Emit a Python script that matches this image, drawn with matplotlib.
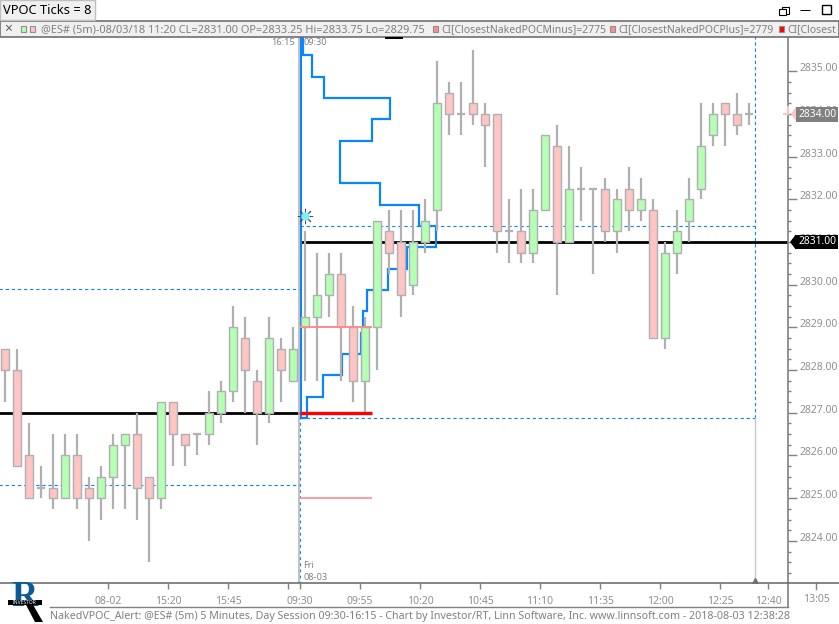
import matplotlib
matplotlib.use('Agg')
import matplotlib.pyplot as plt
from matplotlib.patches import Rectangle, Polygon
from matplotlib.transforms import ScaledTranslation

W, H = 839, 624
GREEN = '#b4ffb4'
RED = '#ffc4c4'
EDGE = '#b0b0b0'
BLUE = '#0a84ff'
GRID = '#808080'

# bars: open, high, low, close
opens = [2828.5, 2828.0, 2826.0, 2825.25, 2825.25, 2825.0, 2826.0, 2825.25, 2825.0, 2825.5,
         2826.25, 2826.5, 2825.5, 2825.0, 2827.25, 2826.5, 2826.5, 2826.5, 2827.0, 2827.5,
         2828.75, 2827.75, 2827.0, 2828.5, 2827.75, 2829.0, 2829.25, 2829.75, 2830.25, 2829.0,
         2827.75, 2829.0, 2831.25, 2831.0, 2830.0, 2831.0, 2831.75, 2834.5, 2834.0, 2834.25,
         2834.0, 2834.0, 2831.25, 2831.25, 2830.75, 2831.75, 2833.25, 2831.0, 2832.25, 2832.25,
         2832.25, 2831.25, 2832.25, 2831.75, 2831.75, 2828.75, 2830.75, 2831.5, 2832.25, 2833.5,
         2834.25, 2834.0, 2834.0]
highs = [2828.5, 2828.5, 2826.75, 2825.75, 2826.5, 2826.5, 2826.5, 2825.5, 2825.75, 2826.5,
         2826.5, 2827.0, 2825.5, 2827.25, 2827.25, 2826.5, 2826.5, 2827.5, 2827.75, 2829.5,
         2829.25, 2828.0, 2829.25, 2828.75, 2829.0, 2831.25, 2830.75, 2830.75, 2830.75, 2829.5,
         2829.25, 2831.5, 2831.75, 2831.75, 2831.75, 2832.0, 2835.25, 2834.75, 2834.75, 2835.5,
         2834.25, 2834.0, 2832.0, 2832.25, 2832.25, 2833.5, 2833.75, 2833.25, 2832.75, 2832.25,
         2832.5, 2832.25, 2832.75, 2832.5, 2832.0, 2831.0, 2831.75, 2832.5, 2834.25, 2834.25,
         2834.25, 2834.5, 2834.25]
lows = [2827.25, 2825.75, 2825.0, 2825.0, 2824.75, 2825.0, 2824.75, 2824.0, 2824.5, 2824.75,
        2824.75, 2824.5, 2823.5, 2824.75, 2825.75, 2825.75, 2826.0, 2826.25, 2826.75, 2827.25,
        2827.0, 2826.25, 2826.75, 2827.25, 2827.75, 2827.75, 2827.75, 2829.25, 2827.75, 2827.25,
        2827.0, 2828.0, 2830.25, 2829.25, 2829.75, 2830.75, 2831.25, 2833.5, 2833.5, 2833.75,
        2832.75, 2830.75, 2830.5, 2830.5, 2830.5, 2831.75, 2829.75, 2831.0, 2831.5, 2830.25,
        2831.0, 2830.75, 2831.25, 2831.5, 2828.75, 2828.5, 2830.25, 2831.0, 2832.0, 2833.25,
        2833.25, 2833.5, 2833.75]
closes = [2828.0, 2825.75, 2825.0, 2825.25, 2825.0, 2826.0, 2825.0, 2825.0, 2825.5, 2826.25,
          2826.5, 2825.25, 2825.0, 2827.25, 2826.5, 2826.25, 2826.5, 2827.0, 2827.5, 2829.0,
          2828.0, 2827.0, 2828.75, 2828.0, 2828.5, 2829.25, 2829.75, 2830.25, 2829.0, 2827.75,
          2829.0, 2831.5, 2830.75, 2829.75, 2831.0, 2831.5, 2834.25, 2834.0, 2834.0, 2834.0,
          2833.75, 2831.25, 2831.25, 2830.75, 2831.75, 2833.5, 2831.0, 2832.25, 2832.25, 2832.25,
          2831.25, 2832.0, 2831.75, 2832.0, 2828.75, 2830.75, 2831.25, 2832.0, 2833.25, 2834.0,
          2834.0, 2833.75, 2834.0]

# volume profile of the session, in bar widths from the session start
profile_edges = [2826.875, 2827.375, 2827.875, 2828.375, 2828.875, 2829.375, 2829.875, 2830.375,
                 2830.875, 2831.375, 2831.875, 2832.375, 2832.875, 2833.375, 2833.875, 2834.375,
                 2834.875, 2835.375, 2835.875]
profile_width = [0.6, 1.9, 3.5, 5.1, 5.25, 5.6, 7.3, 8.9, 11.3, 9.9, 6.7, 3.3, 3.3, 6.0, 7.5, 2.0, 1.0, 0.25]

minor_prices = [2823 + 0.25 * k for k in range(12 * 4)]
major_prices = [2824, 2825, 2826, 2827, 2828, 2829, 2830, 2831, 2832, 2833, 2834, 2835]
time_labels = ['08-02', '15:20', '15:45', '', '09:30', '09:55', '10:20', '10:45', '11:10', '11:35', '12:00', '12:25', '12:40']
time_ticks = [8.58, 13.58, 18.58, 23.58, 24.58, 29.58, 34.58, 39.58, 44.58, 49.58, 54.58, 59.58, 63.58]
future_tick = 67.58
future_label = '13:05'

session_x = 24.58
cursor_x = 62.5

fig = plt.figure(figsize=(W / 100, H / 100), dpi=100)
plt.rcParams['font.family'] = ['Noto Sans', 'DejaVu Sans']
GRAY_TXT = '#808080'


def to_fig(x, y):
    return x / W, 1 - y / H


# main price panel spans pixels x 0..788, y 37..583
ax = fig.add_axes([0, 1 - 583 / H, 788 / W, (583 - 37) / H])
for s in ['top', 'left']:
    ax.spines[s].set_visible(False)
ax.spines['bottom'].set_color('#707070')
ax.spines['bottom'].set_linewidth(1.2)
ax.spines['right'].set_color('#808080')
ax.spines['right'].set_linewidth(1.2)

ax.yaxis.tick_right()
ax.set_yticks(minor_prices, minor=True)
ax.set_yticks(major_prices)
ax.set_yticklabels([f'{p:.2f}' for p in major_prices], fontsize=7.5, color='#909090')
ax.tick_params(axis='y', which='major', length=6.5, width=1, color=GRID, pad=1.5)
ax.tick_params(axis='y', which='minor', length=2.4, width=1, color=GRID)
for lab in ax.get_yticklabels():
    # labels sit just above their tick
    lab.set_transform(lab.get_transform() + ScaledTranslation(0, 4 / 100, fig.dpi_scale_trans))
ax.set_xticks(time_ticks)
ax.set_xticklabels(time_labels, fontsize=7.5, color='#909090')
ax.tick_params(axis='x', length=4.3, width=1, color=GRID, pad=5)
ax.plot([future_tick, future_tick], [0, -6 / 546], color=GRID, lw=1, clip_on=False, transform=ax.get_xaxis_transform())
ax.text(future_tick, -17 / 546, future_label, fontsize=7.5, color='#909090', ha='center', va='center',
        transform=ax.get_xaxis_transform())

# levels behind the bars
dash = (0, (3, 2.5))
ax.plot([-1, session_x], [2827, 2827], color='black', lw=2, zorder=2, solid_capstyle='butt')
ax.plot([session_x, 66], [2831, 2831], color='black', lw=2, zorder=2, solid_capstyle='butt')
ax.plot([-1, session_x], [2829.9, 2829.9], color=BLUE, lw=0.8, ls=dash, zorder=2)
ax.plot([-1, session_x], [2825.3, 2825.3], color=BLUE, lw=0.8, ls=dash, zorder=2)
ax.plot([session_x, cursor_x], [2831.375, 2831.375], color=BLUE, lw=0.8, ls=dash, zorder=2)
ax.plot([session_x, cursor_x], [2826.875, 2826.875], color=BLUE, lw=0.8, ls=dash, zorder=2)
ax.plot([cursor_x, cursor_x], [2826.875, 2836], color=BLUE, lw=0.8, ls=dash, zorder=2)
ax.plot([cursor_x, cursor_x], [2823, 2826.875], color='#c8c8c8', lw=1, zorder=2)
ax.plot([cursor_x], [2823.07], marker='^', color='#707070', ms=5, zorder=3)
ax.plot([session_x - 0.07, session_x - 0.07], [2823, 2836], color='#b8b8b8', lw=1.2, zorder=2)
ax.plot([session_x, session_x], [2823, 2826.875], color=BLUE, lw=0.8, ls=(0, (2.5, 3)), zorder=2.2)

# profile step line
xs = [session_x + 0.05]
ys = [profile_edges[0]]
for k, w in enumerate(profile_width):
    xs += [session_x + w, session_x + w]
    ys += [profile_edges[k], profile_edges[k + 1]]
ax.plot(xs, ys, color=BLUE, lw=1.6, zorder=2.5, solid_joinstyle='miter')
ax.plot([session_x + 0.05, session_x + 0.05], [2826.875, 2836], color=BLUE, lw=1.5, zorder=2.5)

# candles
for i in range(len(opens)):
    o, h, l, c = opens[i], highs[i], lows[i], closes[i]
    ax.plot([i, i], [l, h], color=EDGE, lw=1.6, zorder=3, solid_capstyle='butt')
    if o == c:
        ax.plot([i - 0.36, i + 0.36], [o, o], color=EDGE, lw=1.6, zorder=3, solid_capstyle='butt')
    else:
        ax.add_patch(Rectangle((i - 0.32, min(o, c)), 0.64, abs(c - o), facecolor=GREEN if c > o else RED,
                               edgecolor=EDGE, lw=1.0, zorder=4))

# POC lines on top
ax.plot([session_x, 30.6], [2829, 2829], color='#ff8c8c', lw=1.4, zorder=5, solid_capstyle='butt')
ax.plot([session_x, 30.6], [2825, 2825], color='#ff8c8c', lw=1.2, zorder=5, solid_capstyle='butt')
ax.plot([session_x, 30.6], [2827, 2827], color='#ff0000', lw=2.4, zorder=5, solid_capstyle='butt')
ax.plot([25], [2831.6], marker='o', color='#7df0ff', mec='#7df0ff', ms=5, zorder=6)
ax.plot([25], [2831.6], marker=(8, 2, 0), color='#505050', mew=0.7, ms=11, zorder=5.5)

ax.text(session_x - 0.4, 2835.68, '16:15', fontsize=6.6, color=GRAY_TXT, ha='right', va='center')
ax.text(session_x + 0.28, 2835.68, '09:30', fontsize=6.6, color=GRAY_TXT, ha='left', va='center')
ax.text(session_x + 0.28, 2823.42, 'Fri', fontsize=6.6, color=GRAY_TXT, ha='left', va='center')
ax.text(session_x + 0.28, 2823.14, '08-03', fontsize=6.6, color=GRAY_TXT, ha='left', va='center')

# price tags on the right axis
ax.plot([64.92, 65.25], [2834, 2834], color='#ffc4c4', lw=1.4, zorder=5, clip_on=False)
ax.plot([65.25, 65.25], [2834, 2834.16], color='#ffc4c4', lw=1.4, zorder=5, clip_on=False)
ax.add_patch(Polygon([(65.5, 2834), (65.95, 2834.18), (65.95, 2833.82)], facecolor='#ffc4c4', edgecolor='none', clip_on=False, zorder=8))
ax.add_patch(Polygon([(65.42, 2831), (65.85, 2831.16), (65.85, 2830.84)], facecolor='black', edgecolor='none', clip_on=False, zorder=8))

ax.set_xlim(-5 / 12, (788 - 5) / 12)
ax.set_ylim(2831 - (583 - 242) / 42.7, 2831 + (242 - 37) / 42.7)


def panel_rect(x0, y0, x1, y1, **kw):
    fig.add_artist(Rectangle(to_fig(x0, y1), (x1 - x0) / W, (y1 - y0) / H, transform=fig.transFigure, **kw))


tag = dict(fontsize=7.4, color='white', ha='left', va='center', zorder=9)
panel_rect(796, 107, 838, 122, facecolor='#808080', edgecolor='none', zorder=8)
panel_rect(795, 235, 838, 249, facecolor='black', edgecolor='none', zorder=8)
fig.text(*to_fig(798.5, 114.5), '2834.00', **tag)
fig.text(*to_fig(798.5, 242), '2831.00', **tag)

# window chrome
panel_rect(0, 21, 839, 37, facecolor='#f0f0f0', edgecolor='#707070', lw=1.2, zorder=7)
panel_rect(0, 0, 95, 20, facecolor='#f0f0f0', edgecolor='#c0c0c0', lw=1, zorder=7)
fig.text(*to_fig(3, 10), 'VPOC Ticks = 8', fontsize=9.3, color='black', va='center', zorder=8)
fig.text(*to_fig(8, 29), '×', fontsize=10, color='#606060', ha='center', va='center', zorder=8)
panel_rect(21, 26, 26, 32, facecolor=GREEN, edgecolor='#909090', lw=0.8, zorder=8)
panel_rect(30, 26, 35, 32, facecolor=RED, edgecolor='#909090', lw=0.8, zorder=8)
fig.text(*to_fig(41, 29.5), '@ES# (5m)-08/03/18 11:20 CL=2831.00 OP=2833.25 Hi=2833.75 Lo=2829.75',
         fontsize=7.9, color=GRAY_TXT, va='center', zorder=8)
panel_rect(433, 26, 438, 32, facecolor='#ff8c8c', edgecolor='#909090', lw=0.8, zorder=8)
fig.text(*to_fig(441, 29.5), 'CI[ClosestNakedPOCMinus]=2775', fontsize=7.5, color=GRAY_TXT, va='center', zorder=8)
panel_rect(610, 26, 615, 32, facecolor='#ff8c8c', edgecolor='#909090', lw=0.8, zorder=8)
fig.text(*to_fig(618, 29.5), 'CI[ClosestNakedPOCPlus]=2779', fontsize=7.5, color=GRAY_TXT, va='center', zorder=8)
panel_rect(779, 26, 784, 32, facecolor='#ff0000', edgecolor='#909090', lw=0.8, zorder=8)
fig.text(*to_fig(787, 29.5), 'CI[Closest', fontsize=7.5, color=GRAY_TXT, va='center', zorder=8)
panel_rect(385, 37, 403, 38.5, facecolor='black', edgecolor='none', zorder=8)
panel_rect(822, 5, 831, 14, facecolor='none', edgecolor='black', lw=1, zorder=8)
panel_rect(800, 10, 810, 10.1, facecolor='black', edgecolor='black', lw=0.7, zorder=8)
panel_rect(782, 7, 789, 14, facecolor='white', edgecolor='black', lw=0.8, zorder=8)
panel_rect(779, 9, 786, 15, facecolor='white', edgecolor='black', lw=0.8, zorder=8)

# bottom status strip
fig.add_artist(plt.Line2D([50 / W, 788 / W], [1 - 607 / H] * 2, color='#808080', lw=1))
fig.add_artist(plt.Line2D([788 / W, 788 / W], [1 - 607 / H, 1 - 583 / H], color='#808080', lw=1.2))
fig.add_artist(plt.Line2D([788 / W, 1], [1 - 583 / H] * 2, color='#707070', lw=1.2))
fig.text(*to_fig(50, 617), 'NakedVPOC_Alert: @ES# (5m) 5 Minutes, Day Session 09:30-16:15 - Chart by Investor/RT, Linn Software, Inc. www.linnsoft.com - 2018-08-03 12:38:28',
         fontsize=7.66, color=GRAY_TXT, va='center')

# logo
fig.text(*to_fig(24, 597), 'R', fontsize=26, fontweight='bold', family='Liberation Serif', color='#0a5a96',
         ha='center', va='center', zorder=2)
fig.add_artist(Polygon([to_fig(25, 603), to_fig(32, 603), to_fig(43, 622), to_fig(35, 622)], closed=True,
                       transform=fig.transFigure, facecolor='black', edgecolor='none', zorder=3))
panel_rect(8, 600, 42, 605, facecolor='black', edgecolor='none', zorder=3)
fig.text(*to_fig(25, 602.5), 'INVESTOR', fontsize=3.6, color='white', fontweight='bold', ha='center', va='center', zorder=4)

fig.savefig('out.png', dpi=100)
